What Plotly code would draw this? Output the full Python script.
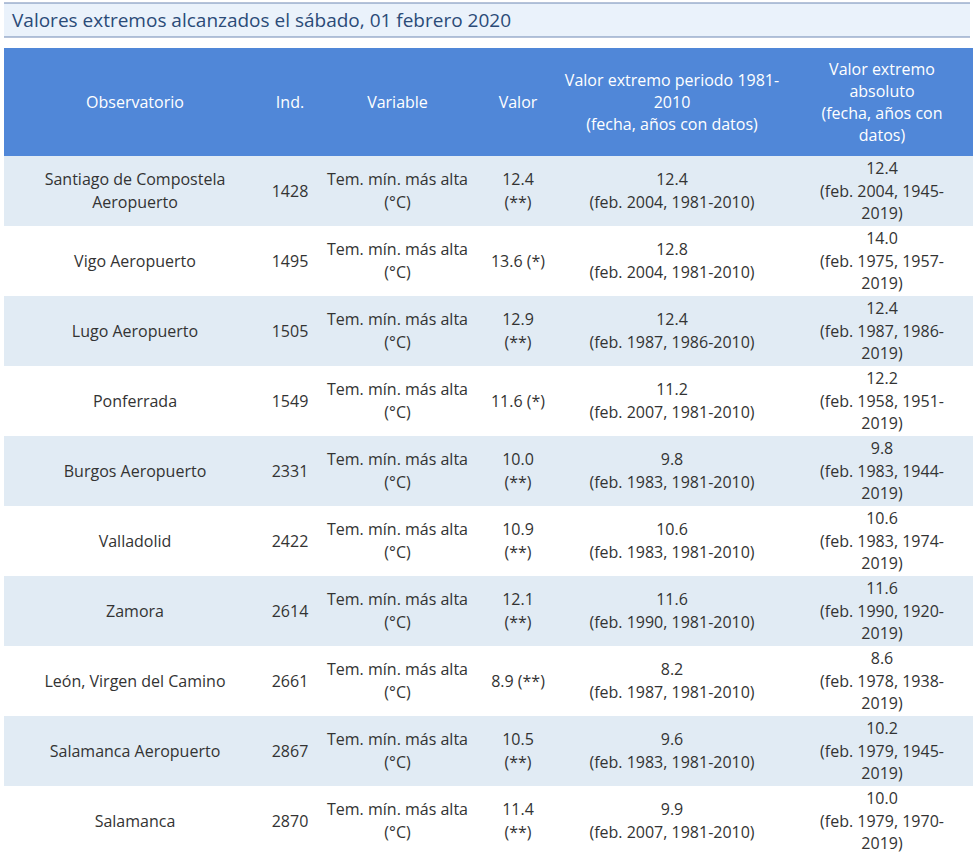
import plotly.graph_objects as go

# ---------------- data ----------------
titulo = "Valores extremos alcanzados el sábado, 01 febrero 2020"
encabezados = [
    "Observatorio",
    "Ind.",
    "Variable",
    "Valor",
    "Valor extremo periodo 1981-<br>2010<br>(fecha, años con datos)",
    "Valor extremo<br>absoluto<br>(fecha, años con<br>datos)",
]
observatorios = [
    "Santiago de Compostela<br>Aeropuerto", "Vigo Aeropuerto", "Lugo Aeropuerto",
    "Ponferrada", "Burgos Aeropuerto", "Valladolid", "Zamora",
    "León, Virgen del Camino", "Salamanca Aeropuerto", "Salamanca",
]
indicativos = ["1428", "1495", "1505", "1549", "2331", "2422", "2614", "2661", "2867", "2870"]
variable = "Tem. mín. más alta<br>(°C)"
valores = [12.4, 13.6, 12.9, 11.6, 10.0, 10.9, 12.1, 8.9, 10.5, 11.4]
marcas = ["(**)", "(*)", "(**)", "(*)", "(**)", "(**)", "(**)", "(**)", "(**)", "(**)"]
ext_periodo = [12.4, 12.8, 12.4, 11.2, 9.8, 10.6, 11.6, 8.2, 9.6, 9.9]
fecha_periodo = ["feb. 2004", "feb. 2004", "feb. 1987", "feb. 2007", "feb. 1983",
                 "feb. 1983", "feb. 1990", "feb. 1987", "feb. 1983", "feb. 2007"]
anos_periodo = ["1981-2010", "1981-2010", "1986-2010", "1981-2010", "1981-2010",
                "1981-2010", "1981-2010", "1981-2010", "1981-2010", "1981-2010"]
ext_absoluto = [12.4, 14.0, 12.4, 12.2, 9.8, 10.6, 11.6, 8.6, 10.2, 10.0]
fecha_absoluto = ["feb. 2004", "feb. 1975", "feb. 1987", "feb. 1958", "feb. 1983",
                  "feb. 1983", "feb. 1990", "feb. 1978", "feb. 1979", "feb. 1979"]
inicio_absoluto = ["1945", "1957", "1986", "1951", "1944", "1974", "1920", "1938", "1945", "1970"]
fin_absoluto = "2019"

# ---------------- layout constants ----------------
W, H = 973, 865
col_centers = [135, 290, 397.5, 518, 672, 882]
TABLE_LEFT, TABLE_RIGHT = 4, 973
HEADER_TOP, HEADER_BOTTOM = 48, 156
ROW_H = 70
LINE_H_BODY = 22.5
LINE_H_HEAD = 22
Y_NUDGE = 1.5
FONT = "Open Sans, Noto Sans, sans-serif"
TXT = "#333333"
HEADER_BG = "#5087d8"
STRIPE = "#e1ebf4"
FS = 16

n = len(observatorios)

def valor_txt(v, m):
    s = f"{v:.1f} {m}"
    return s if len(s) <= 8 else f"{v:.1f}<br>{m}"

col_texts = [
    observatorios,
    indicativos,
    [variable] * n,
    [valor_txt(v, m) for v, m in zip(valores, marcas)],
    [f"{v:.1f}<br>({f}, {a})" for v, f, a in zip(ext_periodo, fecha_periodo, anos_periodo)],
    [f"{v:.1f}<br>({f}, {i}-<br>{fin_absoluto})" for v, f, i in zip(ext_absoluto, fecha_absoluto, inicio_absoluto)],
]


def split_lines(cx, cy, text, lh):
    parts = text.split("<br>")
    m = len(parts)
    xs = [cx] * m
    ys = [cy + (k - (m - 1) / 2) * lh + Y_NUDGE for k in range(m)]
    return xs, ys, parts


fig = go.Figure()

shapes = []
# title band
shapes.append(dict(type="rect", x0=4, x1=970, y0=3, y1=37, fillcolor="#eaf2fb",
                   line=dict(width=0), layer="below"))
for yy in (3, 37):
    shapes.append(dict(type="line", x0=4, x1=970, y0=yy, y1=yy,
                       line=dict(color="#6f88b3", width=1.2)))
# header
shapes.append(dict(type="rect", x0=TABLE_LEFT, x1=TABLE_RIGHT, y0=HEADER_TOP, y1=HEADER_BOTTOM,
                   fillcolor=HEADER_BG, line=dict(width=0), layer="below"))
# row stripes
for i in range(n):
    if i % 2 == 0:
        y0 = HEADER_BOTTOM + i * ROW_H
        shapes.append(dict(type="rect", x0=TABLE_LEFT, x1=TABLE_RIGHT, y0=y0, y1=y0 + ROW_H,
                           fillcolor=STRIPE, line=dict(width=0), layer="below"))

# header text
hx, hy, ht = [], [], []
for c, t in enumerate(encabezados):
    xs, ys, ps = split_lines(col_centers[c], (HEADER_TOP + HEADER_BOTTOM) / 2, t, LINE_H_HEAD)
    hx += xs; hy += ys; ht += ps
fig.add_trace(go.Scatter(
    x=hx, y=hy, mode="text", text=ht, textposition="middle center",
    textfont=dict(family=FONT, size=FS, color="white"),
    hoverinfo="skip", showlegend=False,
))

# body text
row_centers = [HEADER_BOTTOM + i * ROW_H + ROW_H / 2 for i in range(n)]
for c, texts in enumerate(col_texts):
    bx, by, bt = [], [], []
    for i, t in enumerate(texts):
        xs, ys, ps = split_lines(col_centers[c], row_centers[i], t, LINE_H_BODY)
        bx += xs; by += ys; bt += ps
    fig.add_trace(go.Scatter(
        x=bx, y=by, mode="text", text=bt, textposition="middle center",
        textfont=dict(family=FONT, size=FS, color=TXT),
        hoverinfo="skip", showlegend=False,
    ))

fig.update_layout(
    width=W, height=H,
    margin=dict(l=0, r=0, t=0, b=0),
    paper_bgcolor="white", plot_bgcolor="white",
    xaxis=dict(range=[0, W], visible=False, fixedrange=True),
    yaxis=dict(range=[H, 0], visible=False, fixedrange=True),
    shapes=shapes,
    annotations=[dict(x=10, y=20, xref="x", yref="y", text=titulo, showarrow=False,
                      xanchor="left", yanchor="middle",
                      font=dict(family=FONT, size=19, color="#2b4b78"))],
)

fig.write_html(
    "out.html",
    config={"displayModeBar": False},
    post_script="document.body.style.margin='0';document.body.style.overflow='hidden';",
)
